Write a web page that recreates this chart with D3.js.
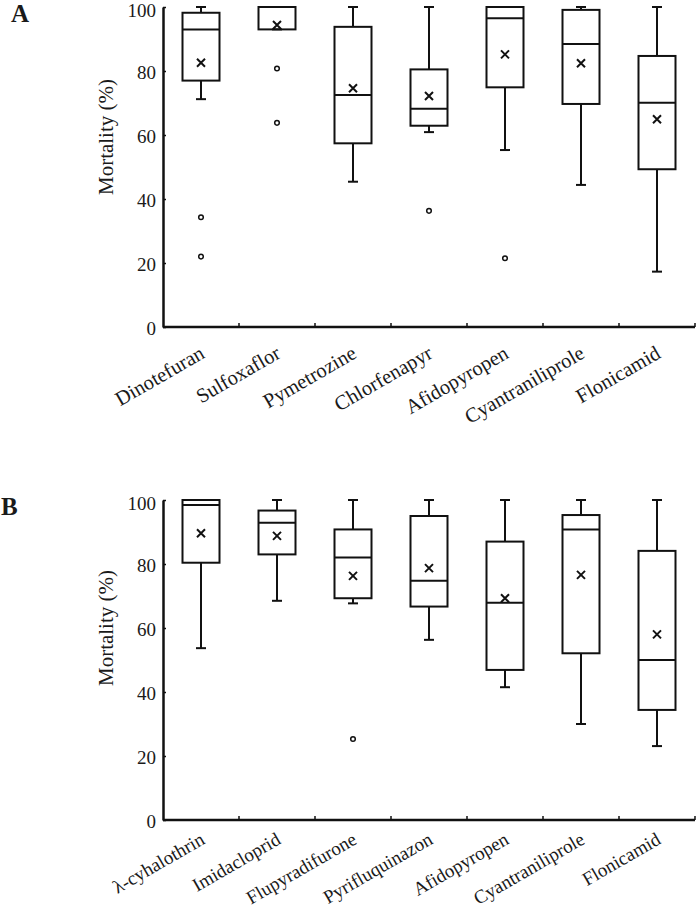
<!DOCTYPE html>
<html lang="en">
<head>
<meta charset="UTF-8">
<title>mortality box plots</title>
<script src="https://cdn.jsdelivr.net/npm/d3@7"></script>
<style>
    body{
        margin: 0;
        background: #ffffff;
    }
    text{
        font-family: "Liberation Serif", "Times New Roman", serif;
        fill: #1a1a1a;
    }
    .box, .whisker, .median, .mean{
        stroke: #111;
        stroke-width: 2;
        fill: none;
    }
    .outlier{
        stroke: #111;
        stroke-width: 1.5;
        fill: #fff;
    }
</style>
</head>
<body>
<svg id="fig" width="698" height="909"></svg>

<script>
    // panel A values (mortality %)
    let categoriesA = ["Dinotefuran", "Sulfoxaflor", "Pymetrozine", "Chlorfenapyr",
        "Afidopyropen", "Cyantraniliprole", "Flonicamid"];
    let minA    = [71.2, 93.0, 45.4, 60.9, 55.3, 44.4, 17.3];
    let q1A     = [77.0, 93.0, 57.4, 62.9, 74.9, 69.7, 49.3];
    let medianA = [93.0, 100, 72.5, 68.2, 96.5, 88.4, 70.1];
    let q3A     = [98.2, 100, 93.8, 80.5, 100, 99.1, 84.7];
    let maxA    = [100, 100, 100, 100, 100, 100, 100];
    let meanA   = [82.6, 94.4, 74.6, 72.2, 85.2, 82.4, 64.9];
    let outliersA = [[34.3, 22.0], [80.8, 63.8], [], [36.3], [21.5], [], []];

    // panel B values (mortality %)
    let categoriesB = ["λ-cyhalothrin", "Imidacloprid", "Flupyradifurone", "Pyrifluquinazon",
        "Afidopyropen", "Cyantraniliprole", "Flonicamid"];
    let minB    = [53.7, 68.5, 67.7, 56.3, 41.5, 30.0, 23.1];
    let q1B     = [80.4, 83.0, 69.3, 66.7, 46.9, 52.1, 34.4];
    let medianB = [98.4, 92.9, 82.0, 74.8, 67.9, 90.8, 50.0];
    let q3B     = [100, 96.7, 90.8, 95.0, 87.0, 95.3, 84.1];
    let maxB    = [100, 100, 100, 100, 100, 100, 100];
    let meanB   = [89.6, 88.8, 76.3, 78.7, 69.3, 76.6, 58.0];
    let outliersB = [[], [], [25.3], [], [], [], []];

    let yTicks = [0, 20, 40, 60, 80, 100];

    let svg = d3.select("#fig");

    function box_plot(cats, mins, q1s, meds, q3s, maxs, means, outs, top, bottom, letter, letterX, letterY, titleY, labSize, labDy){
        let left = 163, right = 695;
        let g = svg.append("g");

        let x = d3.scaleBand().domain(cats).range([left, right]).padding(0);
        let y = d3.scaleLinear().domain([0, 100]).range([bottom, top]);
        let bw = x.bandwidth();
        let boxW = 37, capW = 10;

        // y axis
        let yAxis = g.append("g")
            .attr("transform", `translate(${left},0)`)
            .call(d3.axisLeft(y).tickValues(yTicks).tickSizeInner(-3).tickSizeOuter(0).tickPadding(7));
        yAxis.select(".domain").attr("stroke", "#111").attr("stroke-width", 2.5);
        yAxis.selectAll(".tick line").attr("stroke", "#111").attr("stroke-width", 1.5);
        yAxis.selectAll("text")
            .attr("font-size", 19)
            .attr("dy", d => d === 100 ? "0.52em" : "0.42em")
            .attr("font-family", "Liberation Serif, serif")
            .attr("fill", "#1a1a1a");

        // x axis with ticks at the category boundaries
        g.append("line")
            .attr("x1", left).attr("x2", right)
            .attr("y1", bottom).attr("y2", bottom)
            .attr("stroke", "#111").attr("stroke-width", 2.5);
        g.selectAll(".xtick").data(cats).enter().append("line")
            .attr("x1", d => x(d) + bw).attr("x2", d => x(d) + bw)
            .attr("y1", bottom).attr("y2", bottom - 4)
            .attr("stroke", "#111").attr("stroke-width", 1.5);
        g.selectAll(".xlab").data(cats).enter().append("text")
            .attr("text-anchor", "end")
            .attr("font-size", labSize)
            .attr("transform", d => `translate(${x(d) + bw / 2 + 5},${bottom + labDy}) rotate(-30)`)
            .text(d => d);

        // y title
        g.append("text")
            .attr("text-anchor", "middle")
            .attr("font-size", 21)
            .attr("transform", `translate(113,${titleY}) rotate(-90)`)
            .text("Mortality (%)");

        // panel letter
        g.append("text")
            .attr("x", letterX).attr("y", letterY)
            .attr("font-size", 25)
            .attr("font-weight", "bold")
            .attr("fill", "#000")
            .text(letter);

        cats.forEach(function (c, i){
            let cx = x(c) + bw / 2;
            // whiskers
            g.append("line").attr("class", "whisker")
                .attr("x1", cx).attr("x2", cx).attr("y1", y(q3s[i])).attr("y2", y(maxs[i]));
            g.append("line").attr("class", "whisker")
                .attr("x1", cx).attr("x2", cx).attr("y1", y(q1s[i])).attr("y2", y(mins[i]));
            g.append("line").attr("class", "whisker")
                .attr("x1", cx - capW / 2).attr("x2", cx + capW / 2).attr("y1", y(maxs[i])).attr("y2", y(maxs[i]));
            g.append("line").attr("class", "whisker")
                .attr("x1", cx - capW / 2).attr("x2", cx + capW / 2).attr("y1", y(mins[i])).attr("y2", y(mins[i]));
            // box
            g.append("rect").attr("class", "box")
                .attr("x", cx - boxW / 2).attr("width", boxW)
                .attr("y", y(q3s[i])).attr("height", y(q1s[i]) - y(q3s[i]))
                .attr("fill", "#fff");
            g.append("line").attr("class", "median")
                .attr("x1", cx - boxW / 2).attr("x2", cx + boxW / 2)
                .attr("y1", y(meds[i])).attr("y2", y(meds[i]));
            // mean marker
            let my = y(means[i]), s = 4;
            g.append("path").attr("class", "mean")
                .attr("d", `M${cx - s},${my - s}L${cx + s},${my + s}M${cx - s},${my + s}L${cx + s},${my - s}`)
                .attr("stroke-width", 2.2);
            // outliers
            g.selectAll(null).data(outs[i]).enter().append("circle")
                .attr("class", "outlier")
                .attr("cx", cx).attr("cy", d => y(d)).attr("r", 2.3);
        });
    }

    box_plot(categoriesA, minA, q1A, medianA, q3A, maxA, meanA, outliersA, 7, 327, "A", 11, 22, 137, 20.5, 30);
    box_plot(categoriesB, minB, q1B, medianB, q3B, maxB, meanB, outliersB, 500, 820, "B", 1, 515, 628, 19, 23);
</script>
</body>
</html>
